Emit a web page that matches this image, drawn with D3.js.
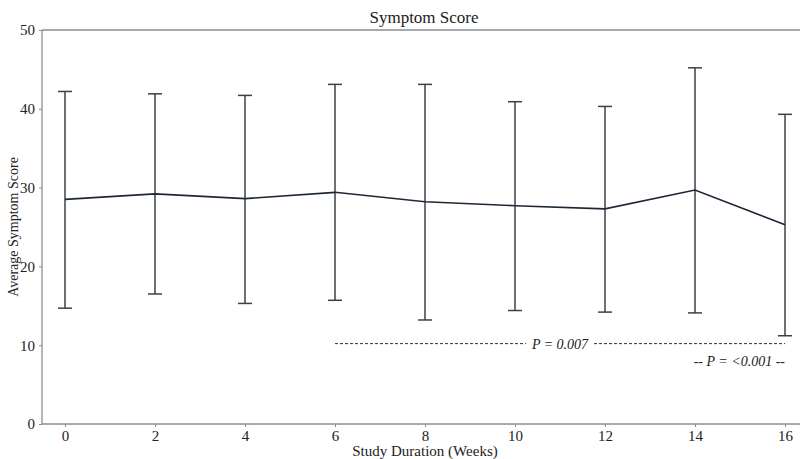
<!DOCTYPE html>
<html>
<head>
<meta charset="utf-8">
<script src="https://cdn.jsdelivr.net/npm/d3@7"></script>
<style>
  html, body { margin: 0; padding: 0; background: #fff; }
  svg { display: block; }
  text { font-family: "Liberation Serif", "DejaVu Serif", serif; fill: #222; }
</style>
</head>
<body>
<svg id="chart" width="800" height="459"></svg>
<script>
// Average symptom score by study week, with error bars
const weeks = [0, 2, 4, 6, 8, 10, 12, 14, 16];
const meanScore = [28.5, 29.2, 28.6, 29.4, 28.2, 27.7, 27.3, 29.7, 25.3];
const upperBound = [42.2, 41.9, 41.7, 43.1, 43.1, 40.9, 40.3, 45.2, 39.3];
const lowerBound = [14.7, 16.5, 15.3, 15.7, 13.2, 14.4, 14.2, 14.1, 11.2];
const yTicks = [0, 10, 20, 30, 40, 50];

// Significance bracket
const bracket = { from: 6, to: 16, level: 10.2, label: "P = 0.007" };
const secondLabel = "-- P = <0.001 --";

const svg = d3.select("#chart");
const margin = { top: 30, right: 0, bottom: 35, left: 42 };
const W = 800, H = 459;

const x = d3.scaleLinear().domain([-0.511, 16.333]).range([margin.left, W - margin.right]);
const y = d3.scaleLinear().domain([0, 50]).range([H - margin.bottom, margin.top]);

const axisColor = "#8a8d92";

// Top frame line
svg.append("line")
  .attr("x1", margin.left).attr("x2", W)
  .attr("y1", y(50)).attr("y2", y(50))
  .attr("stroke", axisColor).attr("stroke-width", 1.3);

// Axes
const xAxis = svg.append("g")
  .attr("transform", `translate(0,${y(0)})`)
  .call(d3.axisBottom(x).tickValues(weeks).tickSize(3).tickPadding(3).tickFormat(d3.format("d")));
const yAxis = svg.append("g")
  .attr("transform", `translate(${margin.left},0)`)
  .call(d3.axisLeft(y).tickValues(yTicks).tickSize(3).tickPadding(4).tickFormat(d3.format("d")));

[xAxis, yAxis].forEach(g => {
  g.select(".domain").attr("stroke", axisColor).attr("stroke-width", 1.3);
  g.selectAll(".tick line").attr("stroke", axisColor);
  g.selectAll(".tick text").style("font-family", '"Liberation Serif", serif')
    .style("font-size", "15px").attr("fill", "#222");
});
xAxis.select(".domain").attr("d", `M${margin.left},0H${W}`);
yAxis.select(".domain").attr("d", `M0,${y(0)}V${y(50)}`);

// Error bars
const capHalf = 7;
const bars = svg.append("g").attr("stroke", "#3d4147").attr("stroke-width", 1.5);
weeks.forEach((w, i) => {
  const cx = x(w);
  bars.append("line").attr("x1", cx).attr("x2", cx)
    .attr("y1", y(lowerBound[i])).attr("y2", y(upperBound[i]));
  bars.append("line").attr("x1", cx - capHalf).attr("x2", cx + capHalf)
    .attr("y1", y(upperBound[i])).attr("y2", y(upperBound[i]));
  bars.append("line").attr("x1", cx - capHalf).attr("x2", cx + capHalf)
    .attr("y1", y(lowerBound[i])).attr("y2", y(lowerBound[i]));
});

// Mean line
const line = d3.line().x((d, i) => x(weeks[i])).y(d => y(d));
svg.append("path")
  .datum(meanScore)
  .attr("d", line)
  .attr("fill", "none")
  .attr("stroke", "#1d2836")
  .attr("stroke-width", 1.6);

// Dashed significance bracket with centred label
const bx1 = x(bracket.from), bx2 = x(bracket.to), by = y(bracket.level);
const bmid = (bx1 + bx2) / 2;
const labelHalf = 34;
const dash = svg.append("g").attr("stroke", "#333").attr("stroke-width", 1)
  .attr("stroke-dasharray", "3,2");
dash.append("line").attr("x1", bx1).attr("x2", bmid - labelHalf).attr("y1", by).attr("y2", by);
dash.append("line").attr("x1", bmid + labelHalf).attr("x2", bx2).attr("y1", by).attr("y2", by);
svg.append("text")
  .attr("x", bmid).attr("y", by + 5)
  .attr("text-anchor", "middle")
  .style("font-size", "14px").style("font-style", "italic")
  .text(bracket.label);
svg.append("text")
  .attr("x", bx2).attr("y", by + 22)
  .attr("text-anchor", "end")
  .style("font-size", "14px").style("font-style", "italic")
  .text(secondLabel);

// Title and axis labels
svg.append("text")
  .attr("x", 424).attr("y", 23)
  .attr("text-anchor", "middle")
  .style("font-size", "17px")
  .text("Symptom Score");
svg.append("text")
  .attr("x", 425).attr("y", 456)
  .attr("text-anchor", "middle")
  .style("font-size", "15px")
  .text("Study Duration (Weeks)");
svg.append("text")
  .attr("transform", `translate(18,${(y(0) + y(50)) / 2}) rotate(-90)`)
  .attr("text-anchor", "middle")
  .style("font-size", "14px")
  .text("Average Symptom Score");
</script>
</body>
</html>
